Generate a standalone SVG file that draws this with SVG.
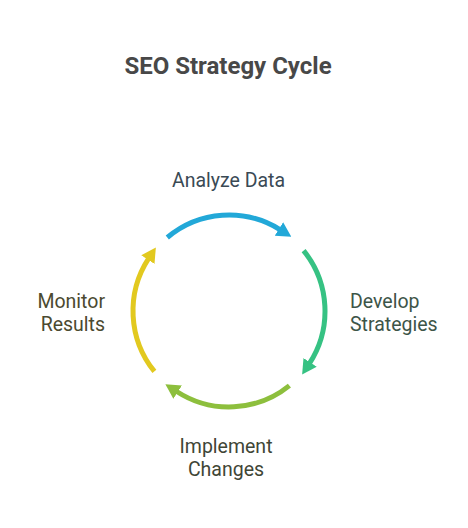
<svg xmlns="http://www.w3.org/2000/svg" width="468" height="528" viewBox="0 0 468 528">
<style>
.t{font-family:Roboto,"Liberation Sans",sans-serif;font-size:19.5px}
.arc{fill:none;stroke-width:5}
</style>
<defs>
<marker id="mb" markerUnits="userSpaceOnUse" markerWidth="16" markerHeight="18" viewBox="0 -8 14 16" refX="1" refY="0" orient="auto"><path d="M0,-7 L13,0 L0,7 z" fill="#22a8d8"/></marker>
<marker id="mg" markerUnits="userSpaceOnUse" markerWidth="16" markerHeight="18" viewBox="0 -8 14 16" refX="1" refY="0" orient="auto"><path d="M0,-7 L13,0 L0,7 z" fill="#36c283"/></marker>
<marker id="ml" markerUnits="userSpaceOnUse" markerWidth="16" markerHeight="18" viewBox="0 -8 14 16" refX="1" refY="0" orient="auto"><path d="M0,-7 L13,0 L0,7 z" fill="#8dbf3d"/></marker>
<marker id="my" markerUnits="userSpaceOnUse" markerWidth="16" markerHeight="18" viewBox="0 -8 14 16" refX="1" refY="0" orient="auto"><path d="M0,-7 L13,0 L0,7 z" fill="#e2c91f"/></marker>
</defs>
<rect width="468" height="528" fill="#ffffff"/>
<text x="228" y="74" text-anchor="middle" font-family="Roboto,'Liberation Sans',sans-serif" font-size="24" font-weight="bold" fill="#484848">SEO Strategy Cycle</text>
<g id="connectors">
<path class="arc" stroke="#22a8d8" d="M167.3,237.5 A96,96 0 0 1 279.9,229.6" marker-end="url(#mb)"/>
<path class="arc" stroke="#36c283" d="M303.6,250.6 A96,96 0 0 1 309.5,363.3" marker-end="url(#mg)"/>
<path class="arc" stroke="#8dbf3d" d="M289.4,385.6 A96,96 0 0 1 176.7,391.5" marker-end="url(#ml)"/>
<path class="arc" stroke="#e2c91f" d="M154.4,371.4 A96,96 0 0 1 148.5,258.7" marker-end="url(#my)"/>
</g>
<g id="analyze"><text class="t" x="228.5" y="187" text-anchor="middle" fill="#3a4a55">Analyze Data</text></g>
<g id="develop"><text class="t" x="350" y="308" fill="#3d5548">Develop<tspan x="350" y="331">Strategies</tspan></text></g>
<g id="implement"><text class="t" x="226" y="453" text-anchor="middle" fill="#3f4636">Implement<tspan x="226" y="476">Changes</tspan></text></g>
<g id="monitor"><text class="t" x="105" y="308" text-anchor="end" fill="#4b4a30">Monitor<tspan x="105" y="331">Results</tspan></text></g>
</svg>
